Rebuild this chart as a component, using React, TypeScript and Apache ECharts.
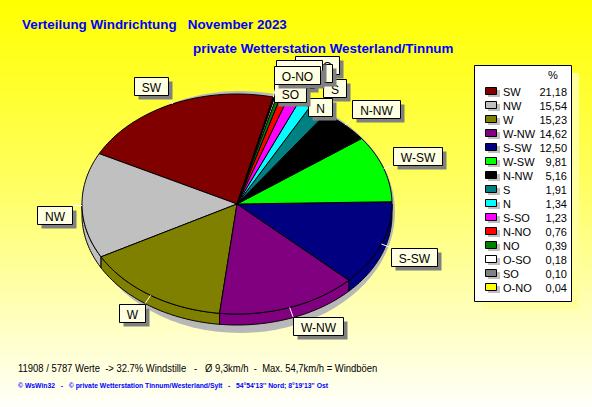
import { useEffect, useRef } from "react";
import * as echarts from "echarts";

// Wind direction shares for November 2023, in legend order (largest first)
const directions = ["SW", "NW", "W", "W-NW", "S-SW", "W-SW", "N-NW", "S", "N", "S-SO", "N-NO", "NO", "O-SO", "SO", "O-NO"];
const shares = [21.18, 15.54, 15.23, 14.62, 12.5, 9.81, 5.16, 1.91, 1.34, 1.23, 0.76, 0.39, 0.18, 0.1, 0.04];
const sliceColors = [
  "#800000", "#c0c0c0", "#808000", "#800080", "#000080", "#00ff00", "#000000", "#008080",
  "#00ffff", "#ff00ff", "#ff0000", "#008000", "#ffffff", "#808080", "#ffff00",
];

const titleMain = "Verteilung Windrichtung   November 2023";
const titleStation = "private Wetterstation Westerland/Tinnum";
const legendHeader = "%";
const footerStats = "11908 / 5787 Werte  -> 32.7% Windstille   -   Ø 9,3km/h  -  Max. 54,7km/h = Windböen";
const footerCredits = "© WsWin32   -   © private Wetterstation Tinnum/Westerland/Sylt   -   54°54'13'' Nord; 8°19'13'' Ost";

// Pie geometry (tilted disc)
const CX = 237;
const CY = 204;
const RX = 155;
const RY = 110;
const DEPTH = 11;
const START_ANGLE = 76.5;

// Crowded labels of the tiny wedges are pushed apart
const labelShift: Record<string, [number, number]> = {
  S: [0, -5],
  N: [0, 20],
  "S-SO": [-1, -18],
  "N-NO": [0, -8],
  "O-SO": [-2, -10],
  SO: [-2, 15],
  "O-NO": [-2, -3],
};

const LABEL_FONT = "12px 'Liberation Sans', Arial, sans-serif";

function textWidth(text: string, font: string): number {
  const ctx = document.createElement("canvas").getContext("2d");
  if (!ctx) return text.length * 7;
  ctx.font = font;
  return ctx.measureText(text).width;
}

function rim(deg: number, dy = 0): number[] {
  const r = (deg * Math.PI) / 180;
  return [CX + RX * Math.cos(r), CY - RY * Math.sin(r) + dy];
}

function arcPoints(a0: number, a1: number, dy = 0): number[][] {
  const n = Math.max(2, Math.ceil(Math.abs(a1 - a0)) + 1);
  const pts: number[][] = [];
  for (let k = 0; k < n; k++) pts.push(rim(a0 + ((a1 - a0) * k) / (n - 1), dy));
  return pts;
}

export default function App() {
  const ref = useRef<HTMLDivElement>(null);

  useEffect(() => {
    if (!ref.current) return;
    const chart = echarts.init(ref.current, null, { renderer: "svg" });

    const total = shares.reduce((a, b) => a + b, 0);
    let acc = START_ANGLE;
    const wedges = shares.map((v) => {
      const a0 = acc;
      acc += (v / total) * 360;
      return [v, a0, acc];
    });

    const faceItem = (params: any, api: any) => {
      const i = params.dataIndex;
      const a0 = api.value(1) as number;
      const a1 = api.value(2) as number;
      const color = sliceColors[i];
      const children: any[] = [];
      if (i === 0) {
        children.push({
          type: "ellipse",
          shape: { cx: CX + 3, cy: CY + 8, rx: RX, ry: RY + 11 },
          style: { fill: "#b8b8b8" },
        });
      }
      for (const [lo, hi] of [[180, 360], [540, 720]]) {
        const s = Math.max(a0, lo);
        const e = Math.min(a1, hi);
        if (e > s) {
          children.push({
            type: "polygon",
            shape: { points: [...arcPoints(s, e), ...arcPoints(s, e, DEPTH).reverse()] },
            style: { fill: color, stroke: "#000", lineWidth: 1 },
          });
        }
      }
      children.push({
        type: "polygon",
        shape: { points: [[CX, CY], ...arcPoints(a0, a1)] },
        style: { fill: color, stroke: "#000", lineWidth: 1, lineJoin: "bevel" },
      });
      return { type: "group", children };
    };

    const labelItem = (params: any, api: any) => {
      const i = params.dataIndex;
      const name = directions[i];
      const m = ((api.value(1) as number) + (api.value(2) as number)) / 2;
      const r = (m * Math.PI) / 180;
      const c = Math.cos(r);
      const s = Math.sin(r);
      const anchor = rim(m);
      const corner = [anchor[0] + 10 * c, anchor[1] - 10 * s];
      const w = Math.round(textWidth(name, LABEL_FONT) + 15);
      const h = 18;
      const [dx, dy] = labelShift[name] || [0, 0];
      const bx = Math.round((c >= 0 ? corner[0] : corner[0] - w) + dx) + 0.5;
      const by = Math.round((s >= 0 ? corner[1] - h : corner[1]) + dy) + 0.5;
      return {
        type: "group",
        children: [
          {
            type: "line",
            shape: { x1: anchor[0], y1: anchor[1], x2: corner[0], y2: corner[1] },
            style: { stroke: "#ffffff", lineWidth: 1 },
          },
          {
            type: "rect",
            shape: { x: bx + 4, y: by + 4, width: w, height: h },
            style: { fill: "#808080" },
          },
          {
            type: "rect",
            shape: { x: bx, y: by, width: w, height: h },
            style: { fill: "#ffffe1", stroke: "#000", lineWidth: 1 },
          },
          {
            type: "text",
            x: bx + w / 2,
            y: by + h / 2 + 1,
            style: {
              text: name,
              font: LABEL_FONT,
              fill: "#000",
              align: "center",
              verticalAlign: "middle",
            },
          },
        ],
      };
    };

    // Legend table
    const legendX = 474;
    const legendY = 65;
    const legendW = 97;
    const legendH = 236;
    const rowY0 = 91;
    const rowStep = 14;
    const legendFont = "11px 'Liberation Sans', Arial, sans-serif";
    const legendEls: any[] = [
      {
        type: "rect",
        shape: { x: legendX + 8, y: legendY + 8, width: legendW, height: legendH },
        style: { fill: "#ffffa0" },
      },
      {
        type: "rect",
        shape: { x: legendX + 0.5, y: legendY + 0.5, width: legendW, height: legendH },
        style: { fill: "#ffffff", stroke: "#000", lineWidth: 1 },
      },
      {
        type: "text",
        x: 553,
        y: 75,
        style: { text: legendHeader, font: legendFont, fill: "#000", align: "center", verticalAlign: "middle" },
      },
    ];
    directions.forEach((name, i) => {
      const y = rowY0 + i * rowStep;
      legendEls.push(
        {
          type: "rect",
          shape: { x: 488, y: y - 1, width: 12, height: 7 },
          style: { fill: "#c0c0c0" },
        },
        {
          type: "rect",
          shape: { x: 485.5, y: y - 3.5, width: 11, height: 7 },
          style: { fill: sliceColors[i], stroke: "#000", lineWidth: 1 },
        },
        {
          type: "text",
          x: 503,
          y: y + 1,
          style: { text: name, font: legendFont, fill: "#000", align: "left", verticalAlign: "middle" },
        },
        {
          type: "text",
          x: 567,
          y: y + 1,
          style: {
            text: shares[i].toFixed(2).replace(".", ","),
            font: legendFont,
            fill: "#000",
            align: "right",
            verticalAlign: "middle",
          },
        }
      );
    });

    chart.setOption({
      animation: false,
      backgroundColor: new echarts.graphic.LinearGradient(0, 0, 0, 1, [
        { offset: 0, color: "#ffff00" },
        { offset: 0.45, color: "#ffff60" },
        { offset: 1, color: "#fffffa" },
      ]),
      graphic: [
        {
          type: "text",
          left: 22,
          top: 18,
          style: { text: titleMain, font: "bold 13.4px 'Liberation Sans', Arial, sans-serif", fill: "#0000ff" },
        },
        {
          type: "text",
          left: 193,
          top: 42,
          style: { text: titleStation, font: "bold 13.4px 'Liberation Sans', Arial, sans-serif", fill: "#0000ff" },
        },
        { type: "group", children: legendEls },
        {
          type: "text",
          x: 18,
          y: 363,
          scaleX: 0.9,
          style: { text: footerStats, font: "10.5px 'Liberation Sans', Arial, sans-serif", fill: "#000" },
        },
        {
          type: "text",
          x: 18,
          y: 382,
          scaleX: 0.92,
          style: { text: footerCredits, font: "bold 7.4px 'Liberation Sans', Arial, sans-serif", fill: "#0000ff" },
        },
      ],
      series: [
        {
          type: "custom",
          coordinateSystem: "none",
          data: wedges,
          renderItem: faceItem,
          z: 2,
          silent: true,
        },
        {
          type: "custom",
          coordinateSystem: "none",
          data: wedges,
          renderItem: labelItem,
          z: 5,
          silent: true,
        },
      ],
    });

    return () => chart.dispose();
  }, []);

  return <div ref={ref} style={{ position: "fixed", left: 0, top: 0, width: 592, height: 407 }} />;
}
